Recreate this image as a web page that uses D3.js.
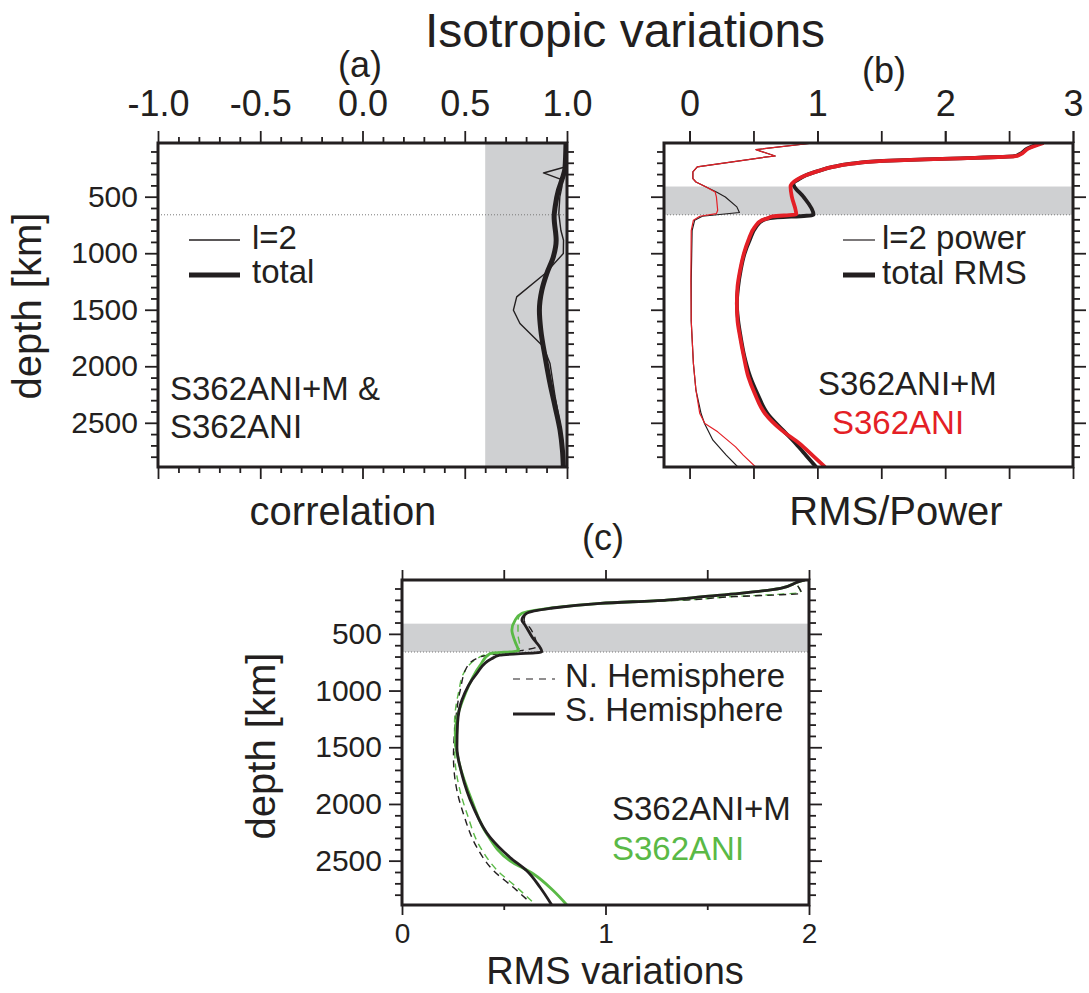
<!DOCTYPE html>
<html><head><meta charset="utf-8">
<script src="https://cdn.jsdelivr.net/npm/d3@7"></script>
<style>
html,body{margin:0;padding:0;background:#fff;}
svg{display:block;}
</style>
</head><body>
<svg id="chart" width="1089" height="993"></svg>
<script>
// ---------------- DATA ----------------
const depthDomain = [25, 2891];
const depthTicksMajor = [500, 1000, 1500, 2000, 2500];
const corrTicks = [-1.0, -0.5, 0.0, 0.5, 1.0];
const rmsPowerTicks = [0, 1, 2, 3];
const rmsTicks = [0, 1, 2];
const tzBand = [410, 660];
const corrShade = [0.6, 1.0];

// (a) correlation S362ANI+M vs S362ANI
const corrL2Depth = [25, 237, 290, 349, 414, 502, 650, 797, 885, 1003, 1180, 1386, 1504, 1622, 1828, 1976, 2271, 2506, 2713, 2891];
const corrL2 = [0.995, 0.99, 0.885, 0.974, 0.975, 0.965, 0.96, 0.97, 0.983, 0.982, 0.893, 0.754, 0.738, 0.770, 0.885, 0.917, 0.942, 0.966, 0.975, 0.982];
const corrTotDepth = [25, 250, 350, 443, 590, 679, 885, 1033, 1180, 1327, 1504, 1681, 1917, 2153, 2359, 2565, 2750, 2891];
const corrTot = [0.995, 0.99, 0.975, 0.958, 0.942, 0.937, 0.947, 0.933, 0.901, 0.877, 0.865, 0.872, 0.893, 0.917, 0.942, 0.966, 0.978, 0.982];

// (b) RMS / l=2 power
const rmsMDepth = [25, 75, 125, 142, 163, 184, 210, 237, 272, 311, 349, 384, 410, 500, 660, 690, 708, 768, 885, 1003, 1151, 1298, 1445, 1593, 1740, 1917, 2094, 2241, 2418, 2565, 2683, 2786, 2891];
const rmsM = [2.75, 2.64, 2.58, 2.54, 2.04, 1.51, 1.25, 1.12, 1.01, 0.91, 0.85, 0.81, 0.82, 0.89, 0.97, 0.63, 0.574, 0.52, 0.47, 0.43, 0.40, 0.38, 0.37, 0.38, 0.40, 0.43, 0.475, 0.53, 0.61, 0.73, 0.83, 0.91, 0.99];
const rmsSDepth = [25, 75, 125, 142, 163, 184, 210, 237, 272, 311, 349, 384, 410, 500, 620, 655, 675, 692, 708, 768, 885, 1003, 1151, 1298, 1445, 1593, 1740, 1917, 2094, 2241, 2418, 2565, 2683, 2786, 2891];
const rmsS = [2.77, 2.65, 2.59, 2.55, 2.05, 1.52, 1.26, 1.12, 1.01, 0.91, 0.84, 0.80, 0.79, 0.80, 0.83, 0.835, 0.65, 0.61, 0.565, 0.51, 0.46, 0.425, 0.395, 0.375, 0.37, 0.375, 0.395, 0.425, 0.46, 0.51, 0.59, 0.72, 0.86, 0.96, 1.06];
const powMDepth = [25, 84, 140, 150, 237, 281, 340, 370, 414, 458, 502, 590, 640, 673, 708, 800, 1240, 1600, 1976, 2212, 2418, 2506, 2654, 2786, 2891];
const powM = [0.97, 0.52, 0.67, 0.59, 0.06, 0.026, 0.026, 0.05, 0.13, 0.21, 0.28, 0.37, 0.39, 0.10, 0.04, 0.02, 0.013, 0.013, 0.03, 0.05, 0.09, 0.117, 0.183, 0.287, 0.378];
const powSDepth = [25, 84, 140, 150, 237, 281, 340, 370, 414, 458, 502, 620, 650, 673, 708, 800, 1240, 1600, 1976, 2212, 2418, 2506, 2580, 2713, 2786, 2891];
const powS = [0.97, 0.52, 0.67, 0.59, 0.06, 0.026, 0.026, 0.05, 0.13, 0.20, 0.21, 0.22, 0.21, 0.08, 0.03, 0.013, 0.01, 0.013, 0.03, 0.05, 0.08, 0.12, 0.22, 0.36, 0.42, 0.517];

// (c) hemispheric RMS
const sHemMDepth = [25, 40, 98, 143, 172, 202, 231, 275, 319, 379, 423, 530, 660, 688, 720, 850, 1086, 1292, 1499, 1734, 2030, 2295, 2472, 2589, 2737, 2891];
const sHemM = [1.98, 1.95, 1.86, 1.66, 1.48, 1.30, 0.975, 0.728, 0.612, 0.589, 0.605, 0.64, 0.687, 0.48, 0.44, 0.367, 0.294, 0.273, 0.27, 0.294, 0.351, 0.433, 0.531, 0.613, 0.679, 0.736];
const sHemSDepth = [25, 40, 98, 143, 172, 202, 231, 275, 319, 379, 467, 570, 650, 673, 777, 1027, 1292, 1440, 1617, 1970, 2265, 2501, 2618, 2766, 2891];
const sHemS = [1.98, 1.95, 1.86, 1.66, 1.48, 1.30, 0.975, 0.72, 0.59, 0.556, 0.540, 0.556, 0.572, 0.433, 0.384, 0.311, 0.266, 0.262, 0.278, 0.343, 0.417, 0.531, 0.646, 0.744, 0.81];
const nHemMDepth = [25, 48, 143, 158, 172, 202, 217, 240, 275, 319, 379, 450, 614, 655, 703, 792, 998, 1292, 1587, 1882, 2088, 2383, 2589, 2737, 2869];
const nHemM = [1.98, 1.94, 1.963, 1.823, 1.627, 1.382, 1.137, 0.90, 0.73, 0.61, 0.60, 0.63, 0.662, 0.56, 0.384, 0.319, 0.286, 0.262, 0.253, 0.27, 0.302, 0.368, 0.45, 0.548, 0.63];
const nHemSDepth = [25, 48, 135, 152, 172, 202, 217, 240, 275, 319, 379, 500, 620, 655, 688, 850, 998, 1292, 1587, 1882, 2088, 2383, 2589, 2737, 2869];
const nHemS = [1.98, 1.94, 1.96, 1.84, 1.62, 1.38, 1.14, 0.90, 0.72, 0.59, 0.57, 0.57, 0.58, 0.55, 0.40, 0.302, 0.28, 0.258, 0.26, 0.285, 0.32, 0.385, 0.47, 0.565, 0.645];

// ---------------- DRAWING ----------------
const FONT = "'Liberation Sans', Arial, Helvetica, sans-serif";
const RED = "#e41f26", GREEN = "#5ab946", GRAY = "#cfd0d2";
const svg = d3.select("#chart");

const pa = {x0: 158, x1: 567, y0: 143, y1: 467};
const pb = {x0: 664, x1: 1073, y0: 143, y1: 467};
const pc = {x0: 402, x1: 809, y0: 580, y1: 905};

const xA = d3.scaleLinear().domain([-1, 1]).range([pa.x0, pa.x1]);
const yA = d3.scaleLinear().domain(depthDomain).range([pa.y0, pa.y1]);
const xB = d3.scaleLinear().domain([-0.2, 3]).range([pb.x0, pb.x1]);
const yB = d3.scaleLinear().domain(depthDomain).range([pb.y0, pb.y1]);
const xC = d3.scaleLinear().domain([0, 2]).range([pc.x0, pc.x1]);
const yC = d3.scaleLinear().domain(depthDomain).range([pc.y0, pc.y1]);

const minorDepth = d3.range(100, 2891, 100).filter(d => d % 500 !== 0);
const hyphenFmt = d => d.toFixed(1).replace("\u2212", "-");

function text(x, y, str, size, opts = {}) {
  const t = svg.append("text").attr("x", x).attr("y", y).text(str)
    .attr("font-family", FONT).attr("font-size", size)
    .attr("fill", opts.fill || "#231f20")
    .attr("text-anchor", opts.anchor || "start");
  if (opts.rotate) t.attr("transform", `rotate(${opts.rotate},${x},${y})`);
  return t;
}

function styleAxis(g, size) {
  g.select(".domain").remove();
  g.selectAll(".tick line").attr("stroke", "#231f20").attr("stroke-width", 1.8);
  g.selectAll(".tick text").attr("font-family", FONT).attr("font-size", size).attr("fill", "#231f20");
}

function addAxis(gen, tx, ty, size) {
  const g = svg.append("g").attr("transform", `translate(${tx},${ty})`).call(gen);
  styleAxis(g, size);
  return g;
}

function clip(id, p) {
  svg.append("clipPath").attr("id", id).append("rect")
    .attr("x", p.x0).attr("y", p.y0).attr("width", p.x1 - p.x0).attr("height", p.y1 - p.y0);
}

function series(depths, vals) { return depths.map((d, i) => ({d, v: vals[i]})); }

function drawLine(x, y, depths, vals, clipId, color, width, dash, curve) {
  const line = d3.line().x(p => x(p.v)).y(p => y(p.d)).curve(curve || d3.curveMonotoneY);
  const path = svg.append("path").datum(series(depths, vals))
    .attr("d", line).attr("fill", "none").attr("stroke", color)
    .attr("stroke-width", width).attr("stroke-linejoin", "round")
    .attr("clip-path", `url(#${clipId})`);
  if (dash) path.attr("stroke-dasharray", dash);
  return path;
}

function frame(p) {
  svg.append("rect").attr("x", p.x0).attr("y", p.y0).attr("width", p.x1 - p.x0).attr("height", p.y1 - p.y0)
    .attr("fill", "none").attr("stroke", "#231f20").attr("stroke-width", 3);
}

function dotted(x0, x1, y) {
  svg.append("line").attr("x1", x0).attr("x2", x1).attr("y1", y).attr("y2", y)
    .attr("stroke", "#7a7a7a").attr("stroke-width", 1).attr("stroke-dasharray", "1,2");
}

function depthAxes(p, y, withLabels) {
  addAxis(d3.axisLeft(y).tickValues(depthTicksMajor).tickSize(13).tickPadding(7)
    .tickFormat(withLabels ? d3.format("d") : ""), p.x0, 0, 30);
  addAxis(d3.axisLeft(y).tickValues(minorDepth).tickSize(7).tickFormat(""), p.x0, 0, 30);
  addAxis(d3.axisRight(y).tickValues(depthTicksMajor).tickSize(13).tickFormat(""), p.x1, 0, 30);
  addAxis(d3.axisRight(y).tickValues(minorDepth).tickSize(7).tickFormat(""), p.x1, 0, 30);
}

// Title
text(625, 47, "Isotropic variations", 48, {anchor: "middle"});
text(360, 77, "(a)", 36, {anchor: "middle"});
text(884, 83, "(b)", 36, {anchor: "middle"});
text(603, 550, "(c)", 36, {anchor: "middle"});

// ---------- Panel (a) ----------
clip("clipA", pa);
svg.append("rect").attr("x", xA(corrShade[0])).attr("y", pa.y0)
  .attr("width", xA(corrShade[1]) - xA(corrShade[0])).attr("height", pa.y1 - pa.y0).attr("fill", GRAY);
dotted(pa.x0, pa.x1, yA(tzBand[1]));
drawLine(xA, yA, corrL2Depth, corrL2, "clipA", "#231f20", 1.4, null, d3.curveLinear);
drawLine(xA, yA, corrTotDepth, corrTot, "clipA", "#231f20", 5, null);
frame(pa);
const corrMinor = d3.range(-9, 10).filter(i => i % 5 !== 0).map(i => i / 10);
addAxis(d3.axisTop(xA).tickValues(corrTicks).tickSize(12).tickPadding(15).tickFormat(hyphenFmt), 0, pa.y0, 36);
addAxis(d3.axisTop(xA).tickValues(corrMinor).tickSize(6).tickFormat(""), 0, pa.y0, 36);
addAxis(d3.axisBottom(xA).tickValues(corrTicks).tickSize(12).tickFormat(""), 0, pa.y1, 36);
addAxis(d3.axisBottom(xA).tickValues(corrMinor).tickSize(6).tickFormat(""), 0, pa.y1, 36);
depthAxes(pa, yA, true);
// legend (a)
svg.append("line").attr("x1", 189).attr("x2", 240).attr("y1", 240).attr("y2", 240).attr("stroke", "#231f20").attr("stroke-width", 1.4);
svg.append("line").attr("x1", 189).attr("x2", 240).attr("y1", 275).attr("y2", 275).attr("stroke", "#231f20").attr("stroke-width", 5);
text(252, 249, "l=2", 33);
text(252, 283, "total", 33);
text(170, 400, "S362ANI+M &", 33);
text(170, 438, "S362ANI", 33);
text(343, 525, "correlation", 40, {anchor: "middle"});
text(41, 306, "depth [km]", 40, {anchor: "middle", rotate: -90});

// ---------- Panel (b) ----------
clip("clipB", pb);
svg.append("rect").attr("x", pb.x0).attr("y", yB(tzBand[0])).attr("width", pb.x1 - pb.x0)
  .attr("height", yB(tzBand[1]) - yB(tzBand[0])).attr("fill", GRAY);
dotted(pb.x0, pb.x1, yB(tzBand[1]));
drawLine(xB, yB, powMDepth, powM, "clipB", "#231f20", 1.2, null, d3.curveLinear);
drawLine(xB, yB, powSDepth, powS, "clipB", RED, 1.2, null, d3.curveLinear);
drawLine(xB, yB, rmsMDepth, rmsM, "clipB", "#231f20", 3.8, null);
drawLine(xB, yB, rmsSDepth, rmsS, "clipB", RED, 3.8, null);
frame(pb);
const bTicks = d3.range(0, 7).map(i => i / 2);
addAxis(d3.axisTop(xB).tickValues(rmsPowerTicks).tickSize(12).tickPadding(15).tickFormat(d3.format("d")), 0, pb.y0, 36);
addAxis(d3.axisTop(xB).tickValues(bTicks).tickSize(12).tickFormat(""), 0, pb.y0, 36);
addAxis(d3.axisBottom(xB).tickValues(bTicks).tickSize(12).tickFormat(""), 0, pb.y1, 36);
depthAxes(pb, yB, false);
svg.append("line").attr("x1", 843).attr("x2", 875).attr("y1", 240).attr("y2", 240).attr("stroke", "#231f20").attr("stroke-width", 1.2);
svg.append("line").attr("x1", 843).attr("x2", 875).attr("y1", 275).attr("y2", 275).attr("stroke", "#231f20").attr("stroke-width", 5);
text(882, 249, "l=2 power", 33);
text(882, 284, "total RMS", 33);
text(818, 395, "S362ANI+M", 33);
text(832, 434, "S362ANI", 33, {fill: RED});
text(896, 525, "RMS/Power", 40, {anchor: "middle"});

// ---------- Panel (c) ----------
clip("clipC", pc);
svg.append("rect").attr("x", pc.x0).attr("y", yC(tzBand[0])).attr("width", pc.x1 - pc.x0)
  .attr("height", yC(tzBand[1]) - yC(tzBand[0])).attr("fill", GRAY);
dotted(pc.x0, pc.x1, yC(tzBand[1]));
drawLine(xC, yC, nHemSDepth, nHemS, "clipC", GREEN, 1.4, "7,5");
drawLine(xC, yC, nHemMDepth, nHemM, "clipC", "#231f20", 1.4, "7,5");
drawLine(xC, yC, sHemSDepth, sHemS, "clipC", GREEN, 2.8, null);
drawLine(xC, yC, sHemMDepth, sHemM, "clipC", "#231f20", 2.8, null);
frame(pc);
addAxis(d3.axisBottom(xC).tickValues(rmsTicks).tickSize(10).tickPadding(8).tickFormat(d3.format("d")), 0, pc.y1, 28);
addAxis(d3.axisBottom(xC).tickValues([0.5, 1.5]).tickSize(5).tickFormat(""), 0, pc.y1, 28);
addAxis(d3.axisTop(xC).tickValues([0, 0.5, 1, 1.5, 2]).tickSize(10).tickFormat(""), 0, pc.y0, 28);
depthAxes(pc, yC, true);
svg.append("line").attr("x1", 513).attr("x2", 555).attr("y1", 679).attr("y2", 679).attr("stroke", "#231f20").attr("stroke-width", 1.2).attr("stroke-dasharray", "7,6");
svg.append("line").attr("x1", 513).attr("x2", 555).attr("y1", 714).attr("y2", 714).attr("stroke", "#231f20").attr("stroke-width", 2.8);
text(565, 687, "N. Hemisphere", 33);
text(565, 721, "S. Hemisphere", 33);
text(612, 820, "S362ANI+M", 33);
text(612, 860, "S362ANI", 33, {fill: GREEN});
text(615, 984, "RMS variations", 38, {anchor: "middle"});
text(275, 746, "depth [km]", 40, {anchor: "middle", rotate: -90});
</script>
</body></html>
